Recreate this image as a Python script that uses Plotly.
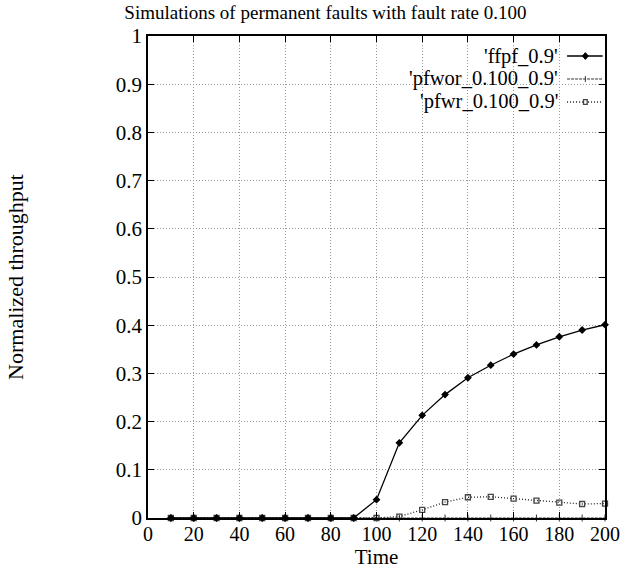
import plotly.graph_objects as go

time = [10, 20, 30, 40, 50, 60, 70, 80, 90, 100, 110, 120, 130, 140, 150, 160, 170, 180, 190, 200]
ffpf = [0, 0, 0, 0, 0, 0, 0, 0, 0, 0.038, 0.156, 0.213, 0.256, 0.291, 0.317, 0.340, 0.359, 0.376, 0.390, 0.401]
pfwor = [0] * 20
pfwr = [0, 0, 0, 0, 0, 0, 0, 0, 0, 0, 0.003, 0.017, 0.033, 0.043, 0.044, 0.040, 0.036, 0.032, 0.029, 0.030]
names = ["'ffpf_0.9'", "'pfwor_0.100_0.9'", "'pfwr_0.100_0.9'"]
xticks = list(range(0, 201, 20))
yticks = [0, 0.1, 0.2, 0.3, 0.4, 0.5, 0.6, 0.7, 0.8, 0.9, 1]
ylabels = ["0", "0.1", "0.2", "0.3", "0.4", "0.5", "0.6", "0.7", "0.8", "0.9", "1"]

FONT = "Liberation Serif, Times New Roman, serif"
DOT = "1px,2px"
DASHDOT = "3px,1px"

fig = go.Figure()
fig.add_trace(go.Scatter(x=time, y=pfwor, mode="lines+markers", name=names[1],
                         line=dict(color="#333", width=1, dash=DASHDOT),
                         marker=dict(symbol="line-ns", size=5, line=dict(color="#333", width=1)),
                         showlegend=False, cliponaxis=False))
fig.add_trace(go.Scatter(x=time, y=pfwr, mode="lines+markers", name=names[2],
                         line=dict(color="#222", width=1.3, dash=DOT),
                         marker=dict(symbol="square-open", size=5, color="#444", line=dict(color="#444", width=1.3)),
                         showlegend=False, cliponaxis=False))
fig.add_trace(go.Scatter(x=time, y=ffpf, mode="lines+markers", name=names[0],
                         line=dict(color="black", width=1.3),
                         marker=dict(symbol="diamond", size=6, color="black"),
                         showlegend=False, cliponaxis=False))

# Legend (gnuplot style: text right-aligned, sample to the right)
leg_y = [0.9585, 0.9108, 0.8631]
styles = [dict(color="black", width=1.3), dict(color="#333", width=1, dash=DASHDOT), dict(color="#222", width=1.3, dash=DOT)]
for nm, yy, st in zip(names, leg_y, styles):
    fig.add_annotation(x=0.901, y=yy, xref="paper", yref="paper", text=nm, showarrow=False,
                       xanchor="right", yanchor="middle", font=dict(family=FONT, size=20.5, color="black"))
    fig.add_shape(type="line", xref="paper", yref="paper", x0=0.917, x1=0.995, y0=yy, y1=yy, line=st)
fig.add_shape(type="path", xref="paper", yref="paper",
              path="M 0.957 %.4f L 0.9635 %.4f L 0.957 %.4f L 0.9505 %.4f Z" % (leg_y[0] + 0.007, leg_y[0], leg_y[0] - 0.007, leg_y[0]),
              fillcolor="black", line=dict(color="black", width=1))
fig.add_shape(type="line", xref="paper", yref="paper", x0=0.957, x1=0.957, y0=leg_y[1] - 0.006, y1=leg_y[1] + 0.006,
              line=dict(color="#333", width=1))
fig.add_shape(type="rect", xref="paper", yref="paper", x0=0.953, x1=0.961, y0=leg_y[2] - 0.005, y1=leg_y[2] + 0.005,
              fillcolor="white", line=dict(color="#444", width=1.3))

fig.update_layout(
    width=638, height=570,
    margin=dict(l=148, r=33, t=36, b=52),
    paper_bgcolor="white", plot_bgcolor="white",
    font=dict(family=FONT, size=21, color="black"),
    title=dict(text="Simulations of permanent faults with fault rate 0.100", x=0.51, xanchor="center",
               y=0.99, yanchor="top", font=dict(family=FONT, size=19, color="black")),
    xaxis=dict(range=[0, 200], tickvals=xticks, ticktext=[str(v) for v in xticks],
               showgrid=True, gridcolor="#999", griddash=DOT, gridwidth=1,
               showline=True, linecolor="black", linewidth=1.5, mirror="ticks",
               ticks="inside", ticklen=6, tickcolor="black", zeroline=False, automargin=False,
               tickfont=dict(family=FONT, size=20), ticklabelstandoff=-3,
               title=dict(text="Time", standoff=0, font=dict(family=FONT, size=21))),
    yaxis=dict(range=[0, 1], tickvals=yticks, ticktext=ylabels,
               showgrid=True, gridcolor="#999", griddash=DOT, gridwidth=1,
               showline=True, linecolor="black", linewidth=1.5, mirror="ticks",
               ticks="inside", ticklen=6, tickcolor="black", zeroline=False, automargin=False,
               tickfont=dict(family=FONT, size=21),
               title=dict(text="Normalized throughput", standoff=86, font=dict(family=FONT, size=22))),
)

fig.write_html("out.html")
